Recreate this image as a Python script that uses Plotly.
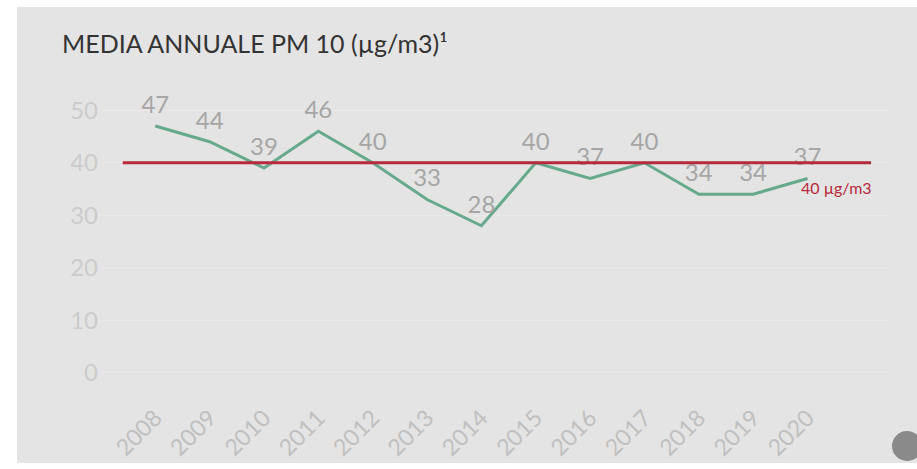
import plotly.graph_objects as go

# Annual mean PM10 concentration
years = [2008, 2009, 2010, 2011, 2012, 2013, 2014, 2015, 2016, 2017, 2018, 2019, 2020]
pm10 = [47, 44, 39, 46, 40, 33, 28, 40, 37, 40, 34, 34, 37]
limit_value = 40
limit_label = "40 µg/m3"
y_ticks = [0, 10, 20, 30, 40, 50]

W, H = 917, 469
ML, MR, MT, MB = 101, 28, 84, 70
PW, PH = W - ML - MR, H - MT - MB
BG = "#e4e4e4"
FONT = "Lato"


def px_x(p):
    return (p - ML) / PW


def px_y(p):
    return (H - MB - p) / PH


fig = go.Figure()

# grey card behind the chart
fig.add_shape(type="rect", xref="paper", yref="paper",
              x0=px_x(17), x1=px_x(925), y0=px_y(463), y1=px_y(7),
              fillcolor=BG, line_width=0, layer="below")

# series line with value labels; invisible markers push the labels up
fig.add_trace(go.Scatter(
    x=years, y=pm10, mode="lines+markers+text",
    line=dict(color="#66a98d", width=3),
    marker=dict(size=10, color="rgba(0,0,0,0)"),
    text=[str(v) for v in pm10], textposition="top center",
    textfont=dict(family=FONT, size=24, color="#a6a6a6"),
    cliponaxis=False, hoverinfo="skip", showlegend=False,
))

# legal limit line
fig.add_shape(type="line", xref="x", yref="y",
              x0=2007.4, x1=2021.17, y0=limit_value, y1=limit_value,
              line=dict(color="#b72a3c", width=3), layer="above")
fig.add_annotation(x=2020.53, y=limit_value, xref="x", yref="y",
                   text=limit_label, showarrow=False, yshift=-25,
                   font=dict(family=FONT, size=16, color="#b72a3c"))

# small round badge in the corner
fig.add_shape(type="circle", xref="paper", yref="paper",
              x0=px_x(892), x1=px_x(922), y0=px_y(461), y1=px_y(431),
              fillcolor="#8a8a8a", line_width=0)

fig.update_layout(
    width=W, height=H,
    margin=dict(l=ML, r=MR, t=MT, b=MB),
    paper_bgcolor="white", plot_bgcolor=BG,
    title=dict(text="MEDIA ANNUALE PM 10 (µg/m3)¹",
               x=62 / W, xanchor="left", xref="container",
               y=1 - 44 / H, yanchor="middle", yref="container",
               font=dict(family=FONT, size=25, color="#333333")),
    xaxis=dict(range=[2007, 2021.5], tickmode="array", tickvals=years,
               ticktext=[str(y) for y in years], tickangle=-45,
               showgrid=False, zeroline=False, showline=False,
               automargin=False,
               tickfont=dict(family=FONT, size=23, color="#c0c0c0")),
    yaxis=dict(range=[-5, 55], tickmode="array", tickvals=y_ticks,
               showgrid=True, gridcolor="#e9e9e9", gridwidth=1,
               zeroline=False, showline=False, ticklabelstandoff=2,
               automargin=False,
               tickfont=dict(family=FONT, size=24, color="#cccccc")),
)

fig.write_html("out.html")
